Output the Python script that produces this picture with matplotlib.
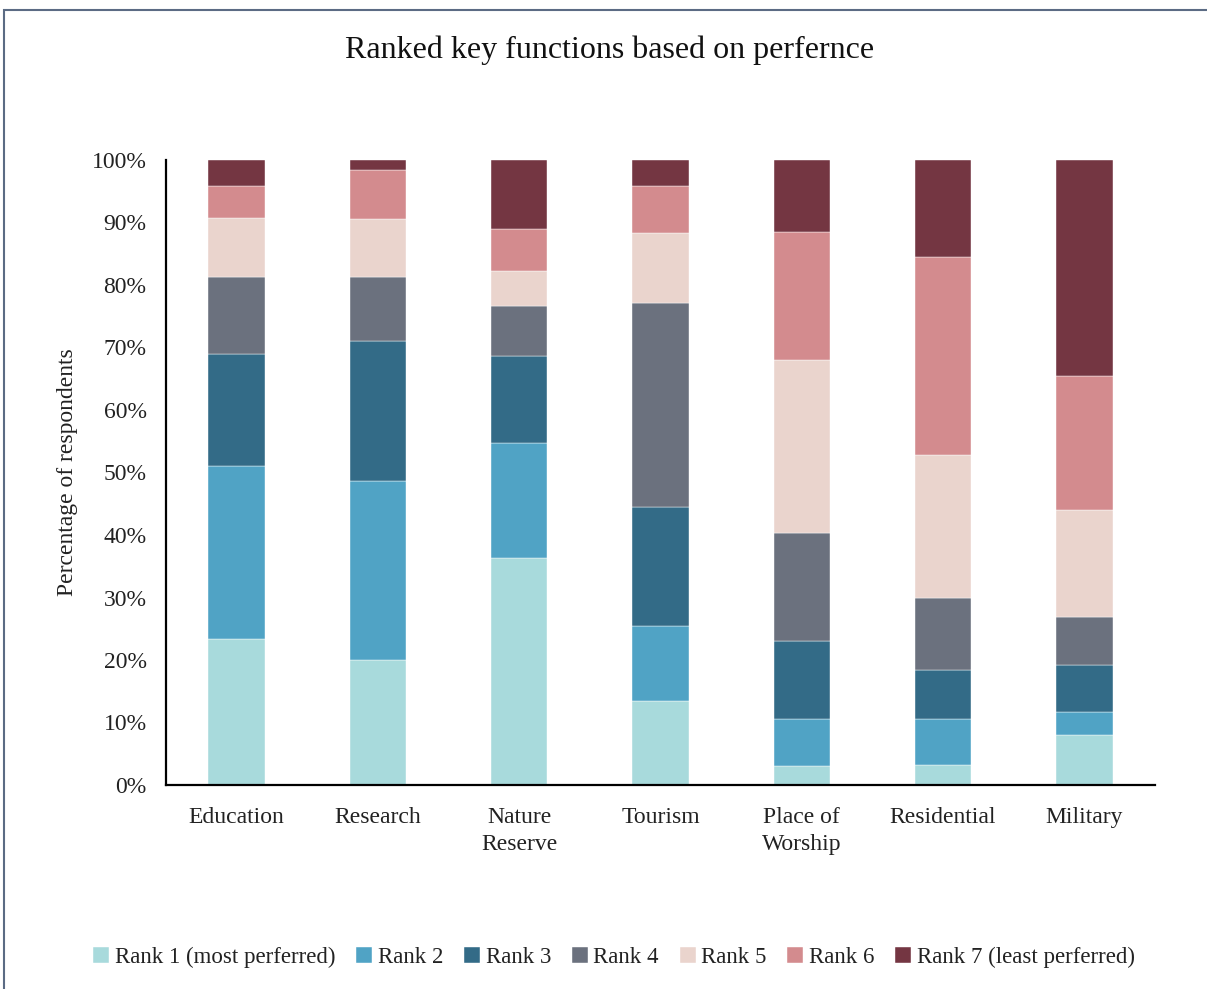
import matplotlib
matplotlib.use("Agg")
import matplotlib.pyplot as plt
from matplotlib.patches import Rectangle
from matplotlib.ticker import PercentFormatter
import numpy as np

categories = ["Education", "Research", "Nature\nReserve", "Tourism",
              "Place of\nWorship", "Residential", "Military"]
series_names = ["Rank 1 (most perferred)", "Rank 2", "Rank 3", "Rank 4",
                "Rank 5", "Rank 6", "Rank 7 (least perferred)"]
rank1 = [23.3, 20.0, 36.3, 13.4, 3.0, 3.2, 8.0]
rank2 = [27.7, 28.7, 18.4, 12.1, 7.5, 7.3, 3.7]
rank3 = [18.0, 22.3, 14.0, 19.0, 12.5, 7.9, 7.5]
rank4 = [12.3, 10.3, 8.0, 32.6, 17.4, 11.5, 7.7]
rank5 = [9.5, 9.2, 5.5, 11.2, 27.6, 22.9, 17.1]
rank6 = [5.0, 7.9, 6.8, 7.5, 20.5, 31.7, 21.4]
rank7 = [4.2, 1.6, 11.0, 4.2, 11.5, 15.5, 34.6]
colors = ["#a8dadc", "#50a3c5", "#336b87", "#6b717e", "#ead4cd", "#d38b8e", "#743642"]

plt.rcParams['font.family'] = ['Liberation Serif', 'DejaVu Serif']

fig = plt.figure(figsize=(12.07, 9.89), dpi=100)
W, H = 1207, 989
ax = fig.add_axes([166 / W, 1 - 785 / H, (1155 - 166) / W, (785 - 160) / H])

# outer frame (cropped chart border)
fig.patches.append(Rectangle((4 / W, -0.1), 1.2, 1 - 10 / H + 0.1, transform=fig.transFigure,
                             fill=False, edgecolor="#5b6b84", linewidth=1.5))

data = [rank1, rank2, rank3, rank4, rank5, rank6, rank7]
x = np.arange(len(categories))
bottom = np.zeros(len(categories))
handles = []
for name, vals, c in zip(series_names, data, colors):
    v = np.array(vals) / 100.0
    h = ax.bar(x, v, 0.4, bottom=bottom, color=c, label=name, edgecolor="white", linewidth=0.3)
    handles.append(h)
    bottom += v

ax.set_xlim(-0.5, 6.5)
ax.set_ylim(0, 1)
ax.set_yticks(np.arange(0, 1.01, 0.1))
ax.yaxis.set_major_formatter(PercentFormatter(1.0, decimals=0))
ax.set_xticks(x)
ax.set_xticklabels(categories, fontsize=17, linespacing=1.35)
ax.tick_params(axis='both', length=0, labelsize=17, colors="#222222")
ax.tick_params(axis='x', pad=16)
ax.tick_params(axis='y', pad=14)
for s in ["top", "right"]:
    ax.spines[s].set_visible(False)
for s in ["left", "bottom"]:
    ax.spines[s].set_linewidth(1.6)
    ax.spines[s].set_color("black")

fig.text(67 / W, 1 - 472 / H, "Percentage of respondents", rotation=90,
         ha="center", va="center", fontsize=17, color="#222222")
fig.text(610 / W, 1 - 50 / H, "Ranked key functions based on perfernce",
         ha="center", va="center", fontsize=23, color="#111111")

fig.legend(handles=handles, labels=series_names, loc="center", bbox_to_anchor=(614 / W, 1 - 957 / H),
           ncol=7, frameon=False, fontsize=16.5, handlelength=0.7, handleheight=0.7,
           handletextpad=0.25, columnspacing=0.9, labelcolor="#222222")

fig.savefig("out.png", dpi=100)
